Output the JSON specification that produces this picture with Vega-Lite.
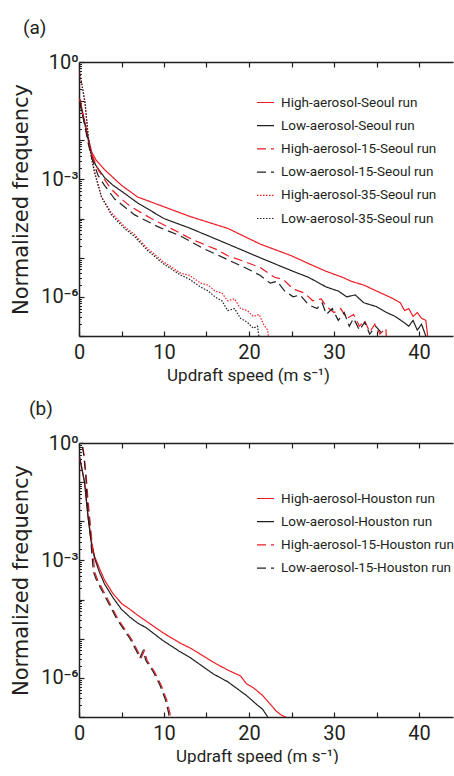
{
  "$schema": "https://vega.github.io/schema/vega-lite/v6.json",
  "padding": {"left": 10, "top": 19, "right": 0, "bottom": 0},
  "spacing": 17,
  "config": {
    "view": {"stroke": null},
    "font": "Roboto",
    "axis": {"domainColor": "#231f20", "domainWidth": 1.5, "tickColor": "#231f20", "tickWidth": 1.2, "grid": false, "labelColor": "#231f20", "titleColor": "#231f20", "labelFont": "Roboto", "titleFont": "Roboto", "labelFontSize": 20, "titleFontWeight": "normal", "labelFlush": false, "labelOverlap": false},
    "legend": {"labelFont": "Roboto", "labelFontSize": 13.5, "labelColor": "#231f20", "symbolType": "stroke", "symbolSize": 289, "symbolStrokeWidth": 1.2, "labelOffset": 6, "rowPadding": 7.2, "padding": 0, "labelLimit": 300},
    "title": {"font": "Roboto", "fontSize": 19, "fontWeight": "normal", "color": "#231f20", "anchor": "start", "frame": "group"}
  },
  "resolve": {"scale": {"color": "independent", "strokeDash": "independent", "strokeWidth": "independent"}, "legend": {"color": "independent", "strokeDash": "independent"}},
  "datasets": {
    "seoul": [
      {"run": "High-aerosol-Seoul run", "v": 0.1, "f": 0.112},
      {"run": "High-aerosol-Seoul run", "v": 0.3, "f": 0.0708},
      {"run": "High-aerosol-Seoul run", "v": 0.7, "f": 0.0282},
      {"run": "High-aerosol-Seoul run", "v": 1.1, "f": 0.0112},
      {"run": "High-aerosol-Seoul run", "v": 1.5, "f": 0.00501},
      {"run": "High-aerosol-Seoul run", "v": 2.0, "f": 0.00316},
      {"run": "High-aerosol-Seoul run", "v": 3.0, "f": 0.00178},
      {"run": "High-aerosol-Seoul run", "v": 4.0, "f": 0.00112},
      {"run": "High-aerosol-Seoul run", "v": 5.0, "f": 7.08e-4},
      {"run": "High-aerosol-Seoul run", "v": 6.9, "f": 3.55e-4},
      {"run": "High-aerosol-Seoul run", "v": 10, "f": 2.0e-4},
      {"run": "High-aerosol-Seoul run", "v": 13.1, "f": 1.12e-4},
      {"run": "High-aerosol-Seoul run", "v": 17.5, "f": 5.62e-5},
      {"run": "High-aerosol-Seoul run", "v": 21.3, "f": 2.24e-5},
      {"run": "High-aerosol-Seoul run", "v": 25, "f": 1.12e-5},
      {"run": "High-aerosol-Seoul run", "v": 27, "f": 7.08e-6},
      {"run": "High-aerosol-Seoul run", "v": 29.1, "f": 4.47e-6},
      {"run": "High-aerosol-Seoul run", "v": 31, "f": 3.16e-6},
      {"run": "High-aerosol-Seoul run", "v": 32, "f": 2.51e-6},
      {"run": "High-aerosol-Seoul run", "v": 33.5, "f": 2.0e-6},
      {"run": "High-aerosol-Seoul run", "v": 35, "f": 1.41e-6},
      {"run": "High-aerosol-Seoul run", "v": 36, "f": 1.12e-6},
      {"run": "High-aerosol-Seoul run", "v": 37, "f": 8.91e-7},
      {"run": "High-aerosol-Seoul run", "v": 37.8, "f": 7.08e-7},
      {"run": "High-aerosol-Seoul run", "v": 38.3, "f": 4.47e-7},
      {"run": "High-aerosol-Seoul run", "v": 38.8, "f": 5.01e-7},
      {"run": "High-aerosol-Seoul run", "v": 39.3, "f": 3.16e-7},
      {"run": "High-aerosol-Seoul run", "v": 39.8, "f": 3.98e-7},
      {"run": "High-aerosol-Seoul run", "v": 40.3, "f": 2.82e-7},
      {"run": "High-aerosol-Seoul run", "v": 40.8, "f": 2.51e-7},
      {"run": "High-aerosol-Seoul run", "v": 41.3, "f": 3.16e-8},
      {"run": "Low-aerosol-Seoul run", "v": 0.1, "f": 0.112},
      {"run": "Low-aerosol-Seoul run", "v": 0.3, "f": 0.0631},
      {"run": "Low-aerosol-Seoul run", "v": 0.7, "f": 0.0251},
      {"run": "Low-aerosol-Seoul run", "v": 1.1, "f": 0.01},
      {"run": "Low-aerosol-Seoul run", "v": 1.5, "f": 0.00398},
      {"run": "Low-aerosol-Seoul run", "v": 2.0, "f": 0.00224},
      {"run": "Low-aerosol-Seoul run", "v": 3.0, "f": 0.00112},
      {"run": "Low-aerosol-Seoul run", "v": 4.0, "f": 7.08e-4},
      {"run": "Low-aerosol-Seoul run", "v": 5.0, "f": 5.01e-4},
      {"run": "Low-aerosol-Seoul run", "v": 6.9, "f": 2.51e-4},
      {"run": "Low-aerosol-Seoul run", "v": 10, "f": 1.0e-4},
      {"run": "Low-aerosol-Seoul run", "v": 13.1, "f": 5.62e-5},
      {"run": "Low-aerosol-Seoul run", "v": 17.5, "f": 2.24e-5},
      {"run": "Low-aerosol-Seoul run", "v": 21.3, "f": 1.0e-5},
      {"run": "Low-aerosol-Seoul run", "v": 25.2, "f": 4.47e-6},
      {"run": "Low-aerosol-Seoul run", "v": 27, "f": 3.16e-6},
      {"run": "Low-aerosol-Seoul run", "v": 29.1, "f": 1.78e-6},
      {"run": "Low-aerosol-Seoul run", "v": 30.5, "f": 1.41e-6},
      {"run": "Low-aerosol-Seoul run", "v": 31.5, "f": 1.0e-6},
      {"run": "Low-aerosol-Seoul run", "v": 32.5, "f": 1.12e-6},
      {"run": "Low-aerosol-Seoul run", "v": 33.5, "f": 7.08e-7},
      {"run": "Low-aerosol-Seoul run", "v": 35, "f": 5.62e-7},
      {"run": "Low-aerosol-Seoul run", "v": 36.2, "f": 3.98e-7},
      {"run": "Low-aerosol-Seoul run", "v": 37.2, "f": 3.16e-7},
      {"run": "Low-aerosol-Seoul run", "v": 38.2, "f": 2.24e-7},
      {"run": "Low-aerosol-Seoul run", "v": 38.8, "f": 1.78e-7},
      {"run": "Low-aerosol-Seoul run", "v": 39.3, "f": 2.51e-7},
      {"run": "Low-aerosol-Seoul run", "v": 39.8, "f": 1.41e-7},
      {"run": "Low-aerosol-Seoul run", "v": 40.3, "f": 2.0e-7},
      {"run": "Low-aerosol-Seoul run", "v": 40.8, "f": 1.0e-7},
      {"run": "Low-aerosol-Seoul run", "v": 41.1, "f": 3.16e-8},
      {"run": "High-aerosol-15-Seoul run", "v": 0.1, "f": 0.112},
      {"run": "High-aerosol-15-Seoul run", "v": 0.3, "f": 0.0631},
      {"run": "High-aerosol-15-Seoul run", "v": 0.7, "f": 0.0251},
      {"run": "High-aerosol-15-Seoul run", "v": 1.1, "f": 0.01},
      {"run": "High-aerosol-15-Seoul run", "v": 1.5, "f": 0.00447},
      {"run": "High-aerosol-15-Seoul run", "v": 2.25, "f": 0.00178},
      {"run": "High-aerosol-15-Seoul run", "v": 3.0, "f": 0.001},
      {"run": "High-aerosol-15-Seoul run", "v": 3.8, "f": 5.62e-4},
      {"run": "High-aerosol-15-Seoul run", "v": 5.0, "f": 3.16e-4},
      {"run": "High-aerosol-15-Seoul run", "v": 6.1, "f": 2.0e-4},
      {"run": "High-aerosol-15-Seoul run", "v": 8.5, "f": 1.0e-4},
      {"run": "High-aerosol-15-Seoul run", "v": 10.8, "f": 5.62e-5},
      {"run": "High-aerosol-15-Seoul run", "v": 13.5, "f": 2.82e-5},
      {"run": "High-aerosol-15-Seoul run", "v": 16.3, "f": 1.58e-5},
      {"run": "High-aerosol-15-Seoul run", "v": 17.5, "f": 1.12e-5},
      {"run": "High-aerosol-15-Seoul run", "v": 19.5, "f": 7.94e-6},
      {"run": "High-aerosol-15-Seoul run", "v": 21.3, "f": 5.62e-6},
      {"run": "High-aerosol-15-Seoul run", "v": 23, "f": 3.16e-6},
      {"run": "High-aerosol-15-Seoul run", "v": 24, "f": 2.82e-6},
      {"run": "High-aerosol-15-Seoul run", "v": 25.2, "f": 1.58e-6},
      {"run": "High-aerosol-15-Seoul run", "v": 26.5, "f": 1.26e-6},
      {"run": "High-aerosol-15-Seoul run", "v": 27.5, "f": 7.94e-7},
      {"run": "High-aerosol-15-Seoul run", "v": 28.5, "f": 8.91e-7},
      {"run": "High-aerosol-15-Seoul run", "v": 29.1, "f": 5.62e-7},
      {"run": "High-aerosol-15-Seoul run", "v": 30, "f": 3.98e-7},
      {"run": "High-aerosol-15-Seoul run", "v": 30.8, "f": 5.01e-7},
      {"run": "High-aerosol-15-Seoul run", "v": 31.5, "f": 2.82e-7},
      {"run": "High-aerosol-15-Seoul run", "v": 32.3, "f": 3.55e-7},
      {"run": "High-aerosol-15-Seoul run", "v": 33, "f": 1.78e-7},
      {"run": "High-aerosol-15-Seoul run", "v": 33.6, "f": 2.51e-7},
      {"run": "High-aerosol-15-Seoul run", "v": 34.2, "f": 1.26e-7},
      {"run": "High-aerosol-15-Seoul run", "v": 34.8, "f": 2.0e-7},
      {"run": "High-aerosol-15-Seoul run", "v": 35.4, "f": 1.12e-7},
      {"run": "High-aerosol-15-Seoul run", "v": 36.1, "f": 1.58e-7},
      {"run": "High-aerosol-15-Seoul run", "v": 36.3, "f": 3.16e-8},
      {"run": "Low-aerosol-15-Seoul run", "v": 0.1, "f": 0.1},
      {"run": "Low-aerosol-15-Seoul run", "v": 0.3, "f": 0.0562},
      {"run": "Low-aerosol-15-Seoul run", "v": 0.7, "f": 0.0224},
      {"run": "Low-aerosol-15-Seoul run", "v": 1.1, "f": 0.00794},
      {"run": "Low-aerosol-15-Seoul run", "v": 1.5, "f": 0.00355},
      {"run": "Low-aerosol-15-Seoul run", "v": 2.25, "f": 0.00126},
      {"run": "Low-aerosol-15-Seoul run", "v": 3.0, "f": 7.08e-4},
      {"run": "Low-aerosol-15-Seoul run", "v": 4.2, "f": 3.16e-4},
      {"run": "Low-aerosol-15-Seoul run", "v": 6.5, "f": 1.26e-4},
      {"run": "Low-aerosol-15-Seoul run", "v": 9.2, "f": 6.31e-5},
      {"run": "Low-aerosol-15-Seoul run", "v": 12, "f": 3.55e-5},
      {"run": "Low-aerosol-15-Seoul run", "v": 14.5, "f": 1.78e-5},
      {"run": "Low-aerosol-15-Seoul run", "v": 17.5, "f": 8.91e-6},
      {"run": "Low-aerosol-15-Seoul run", "v": 19.5, "f": 5.62e-6},
      {"run": "Low-aerosol-15-Seoul run", "v": 21.3, "f": 3.55e-6},
      {"run": "Low-aerosol-15-Seoul run", "v": 22.5, "f": 2.24e-6},
      {"run": "Low-aerosol-15-Seoul run", "v": 23.3, "f": 2.51e-6},
      {"run": "Low-aerosol-15-Seoul run", "v": 24.2, "f": 1.41e-6},
      {"run": "Low-aerosol-15-Seoul run", "v": 25.2, "f": 1.0e-6},
      {"run": "Low-aerosol-15-Seoul run", "v": 26, "f": 1.12e-6},
      {"run": "Low-aerosol-15-Seoul run", "v": 27, "f": 6.31e-7},
      {"run": "Low-aerosol-15-Seoul run", "v": 28, "f": 5.01e-7},
      {"run": "Low-aerosol-15-Seoul run", "v": 28.6, "f": 7.08e-7},
      {"run": "Low-aerosol-15-Seoul run", "v": 29.1, "f": 3.55e-7},
      {"run": "Low-aerosol-15-Seoul run", "v": 29.8, "f": 5.01e-7},
      {"run": "Low-aerosol-15-Seoul run", "v": 30.5, "f": 2.51e-7},
      {"run": "Low-aerosol-15-Seoul run", "v": 31.2, "f": 3.98e-7},
      {"run": "Low-aerosol-15-Seoul run", "v": 31.8, "f": 1.78e-7},
      {"run": "Low-aerosol-15-Seoul run", "v": 32.3, "f": 2.82e-7},
      {"run": "Low-aerosol-15-Seoul run", "v": 33, "f": 1.41e-7},
      {"run": "Low-aerosol-15-Seoul run", "v": 33.6, "f": 2.24e-7},
      {"run": "Low-aerosol-15-Seoul run", "v": 34.2, "f": 1.12e-7},
      {"run": "Low-aerosol-15-Seoul run", "v": 34.9, "f": 1.78e-7},
      {"run": "Low-aerosol-15-Seoul run", "v": 35.5, "f": 1.26e-7},
      {"run": "Low-aerosol-15-Seoul run", "v": 35.8, "f": 3.16e-8},
      {"run": "High-aerosol-35-Seoul run", "v": 0.05, "f": 0.562},
      {"run": "High-aerosol-35-Seoul run", "v": 0.4, "f": 0.224},
      {"run": "High-aerosol-35-Seoul run", "v": 0.7, "f": 0.1},
      {"run": "High-aerosol-35-Seoul run", "v": 1.1, "f": 0.0126},
      {"run": "High-aerosol-35-Seoul run", "v": 1.5, "f": 0.00355},
      {"run": "High-aerosol-35-Seoul run", "v": 1.85, "f": 0.00158},
      {"run": "High-aerosol-35-Seoul run", "v": 2.65, "f": 3.55e-4},
      {"run": "High-aerosol-35-Seoul run", "v": 3.8, "f": 1.41e-4},
      {"run": "High-aerosol-35-Seoul run", "v": 5.35, "f": 6.31e-5},
      {"run": "High-aerosol-35-Seoul run", "v": 6.5, "f": 3.98e-5},
      {"run": "High-aerosol-35-Seoul run", "v": 8, "f": 1.78e-5},
      {"run": "High-aerosol-35-Seoul run", "v": 9.9, "f": 7.94e-6},
      {"run": "High-aerosol-35-Seoul run", "v": 12, "f": 3.98e-6},
      {"run": "High-aerosol-35-Seoul run", "v": 13, "f": 3.55e-6},
      {"run": "High-aerosol-35-Seoul run", "v": 14.3, "f": 2.24e-6},
      {"run": "High-aerosol-35-Seoul run", "v": 15.2, "f": 2.0e-6},
      {"run": "High-aerosol-35-Seoul run", "v": 16, "f": 1.41e-6},
      {"run": "High-aerosol-35-Seoul run", "v": 16.8, "f": 1.26e-6},
      {"run": "High-aerosol-35-Seoul run", "v": 17.5, "f": 7.94e-7},
      {"run": "High-aerosol-35-Seoul run", "v": 18.3, "f": 8.91e-7},
      {"run": "High-aerosol-35-Seoul run", "v": 19, "f": 5.01e-7},
      {"run": "High-aerosol-35-Seoul run", "v": 19.8, "f": 4.47e-7},
      {"run": "High-aerosol-35-Seoul run", "v": 20.5, "f": 3.16e-7},
      {"run": "High-aerosol-35-Seoul run", "v": 21.2, "f": 3.55e-7},
      {"run": "High-aerosol-35-Seoul run", "v": 21.7, "f": 2.0e-7},
      {"run": "High-aerosol-35-Seoul run", "v": 22.2, "f": 1.41e-7},
      {"run": "High-aerosol-35-Seoul run", "v": 22.5, "f": 3.16e-8},
      {"run": "Low-aerosol-35-Seoul run", "v": 0.05, "f": 0.562},
      {"run": "Low-aerosol-35-Seoul run", "v": 0.4, "f": 0.224},
      {"run": "Low-aerosol-35-Seoul run", "v": 0.7, "f": 0.0891},
      {"run": "Low-aerosol-35-Seoul run", "v": 1.1, "f": 0.0112},
      {"run": "Low-aerosol-35-Seoul run", "v": 1.5, "f": 0.00316},
      {"run": "Low-aerosol-35-Seoul run", "v": 1.85, "f": 0.00141},
      {"run": "Low-aerosol-35-Seoul run", "v": 2.65, "f": 3.55e-4},
      {"run": "Low-aerosol-35-Seoul run", "v": 3.8, "f": 1.26e-4},
      {"run": "Low-aerosol-35-Seoul run", "v": 5.35, "f": 5.62e-5},
      {"run": "Low-aerosol-35-Seoul run", "v": 6.5, "f": 3.55e-5},
      {"run": "Low-aerosol-35-Seoul run", "v": 8, "f": 1.58e-5},
      {"run": "Low-aerosol-35-Seoul run", "v": 9.9, "f": 7.08e-6},
      {"run": "Low-aerosol-35-Seoul run", "v": 12, "f": 3.55e-6},
      {"run": "Low-aerosol-35-Seoul run", "v": 13, "f": 2.82e-6},
      {"run": "Low-aerosol-35-Seoul run", "v": 14.3, "f": 1.78e-6},
      {"run": "Low-aerosol-35-Seoul run", "v": 15.2, "f": 1.41e-6},
      {"run": "Low-aerosol-35-Seoul run", "v": 16, "f": 1.0e-6},
      {"run": "Low-aerosol-35-Seoul run", "v": 16.8, "f": 7.94e-7},
      {"run": "Low-aerosol-35-Seoul run", "v": 17.5, "f": 4.47e-7},
      {"run": "Low-aerosol-35-Seoul run", "v": 18.3, "f": 5.01e-7},
      {"run": "Low-aerosol-35-Seoul run", "v": 19, "f": 2.82e-7},
      {"run": "Low-aerosol-35-Seoul run", "v": 19.8, "f": 2.24e-7},
      {"run": "Low-aerosol-35-Seoul run", "v": 20.5, "f": 1.58e-7},
      {"run": "Low-aerosol-35-Seoul run", "v": 21, "f": 1.78e-7},
      {"run": "Low-aerosol-35-Seoul run", "v": 21.5, "f": 3.16e-8}
    ],
    "houston": [
      {"run": "High-aerosol-Houston run", "v": 0.05, "f": 0.447},
      {"run": "High-aerosol-Houston run", "v": 0.2, "f": 0.316},
      {"run": "High-aerosol-Houston run", "v": 0.66, "f": 0.1},
      {"run": "High-aerosol-Houston run", "v": 1.06, "f": 0.0141},
      {"run": "High-aerosol-Houston run", "v": 1.45, "f": 0.00316},
      {"run": "High-aerosol-Houston run", "v": 1.84, "f": 0.00126},
      {"run": "High-aerosol-Houston run", "v": 2.4, "f": 6.31e-4},
      {"run": "High-aerosol-Houston run", "v": 3.0, "f": 3.16e-4},
      {"run": "High-aerosol-Houston run", "v": 4.0, "f": 1.41e-4},
      {"run": "High-aerosol-Houston run", "v": 5.0, "f": 7.94e-5},
      {"run": "High-aerosol-Houston run", "v": 6.0, "f": 5.62e-5},
      {"run": "High-aerosol-Houston run", "v": 6.9, "f": 3.98e-5},
      {"run": "High-aerosol-Houston run", "v": 7.9, "f": 2.82e-5},
      {"run": "High-aerosol-Houston run", "v": 9.9, "f": 1.41e-5},
      {"run": "High-aerosol-Houston run", "v": 11.8, "f": 7.94e-6},
      {"run": "High-aerosol-Houston run", "v": 13.2, "f": 5.62e-6},
      {"run": "High-aerosol-Houston run", "v": 15.8, "f": 2.51e-6},
      {"run": "High-aerosol-Houston run", "v": 17.5, "f": 1.58e-6},
      {"run": "High-aerosol-Houston run", "v": 19.0, "f": 1.12e-6},
      {"run": "High-aerosol-Houston run", "v": 19.7, "f": 7.08e-7},
      {"run": "High-aerosol-Houston run", "v": 20.5, "f": 5.62e-7},
      {"run": "High-aerosol-Houston run", "v": 21.6, "f": 3.55e-7},
      {"run": "High-aerosol-Houston run", "v": 22.4, "f": 2.24e-7},
      {"run": "High-aerosol-Houston run", "v": 23.2, "f": 1.41e-7},
      {"run": "High-aerosol-Houston run", "v": 23.8, "f": 1.12e-7},
      {"run": "High-aerosol-Houston run", "v": 24.8, "f": 8.9e-8},
      {"run": "Low-aerosol-Houston run", "v": 0.05, "f": 0.447},
      {"run": "Low-aerosol-Houston run", "v": 0.2, "f": 0.316},
      {"run": "Low-aerosol-Houston run", "v": 0.66, "f": 0.0955},
      {"run": "Low-aerosol-Houston run", "v": 1.06, "f": 0.0126},
      {"run": "Low-aerosol-Houston run", "v": 1.45, "f": 0.00282},
      {"run": "Low-aerosol-Houston run", "v": 1.84, "f": 0.00112},
      {"run": "Low-aerosol-Houston run", "v": 2.4, "f": 5.01e-4},
      {"run": "Low-aerosol-Houston run", "v": 3.0, "f": 2.51e-4},
      {"run": "Low-aerosol-Houston run", "v": 4.0, "f": 1.12e-4},
      {"run": "Low-aerosol-Houston run", "v": 5.0, "f": 5.62e-5},
      {"run": "Low-aerosol-Houston run", "v": 6.0, "f": 3.55e-5},
      {"run": "Low-aerosol-Houston run", "v": 6.9, "f": 2.51e-5},
      {"run": "Low-aerosol-Houston run", "v": 7.9, "f": 1.91e-5},
      {"run": "Low-aerosol-Houston run", "v": 9.9, "f": 8.91e-6},
      {"run": "Low-aerosol-Houston run", "v": 11.8, "f": 4.79e-6},
      {"run": "Low-aerosol-Houston run", "v": 13.2, "f": 3.16e-6},
      {"run": "Low-aerosol-Houston run", "v": 15.8, "f": 1.26e-6},
      {"run": "Low-aerosol-Houston run", "v": 17.5, "f": 7.94e-7},
      {"run": "Low-aerosol-Houston run", "v": 19.7, "f": 3.55e-7},
      {"run": "Low-aerosol-Houston run", "v": 21.0, "f": 2.0e-7},
      {"run": "Low-aerosol-Houston run", "v": 21.6, "f": 1.58e-7},
      {"run": "Low-aerosol-Houston run", "v": 22.2, "f": 1.0e-7},
      {"run": "Low-aerosol-Houston run", "v": 22.5, "f": 3.16e-8},
      {"run": "High-aerosol-15-Houston run", "v": 0.45, "f": 0.794},
      {"run": "High-aerosol-15-Houston run", "v": 0.6, "f": 0.501},
      {"run": "High-aerosol-15-Houston run", "v": 0.85, "f": 0.141},
      {"run": "High-aerosol-15-Houston run", "v": 1.06, "f": 0.0355},
      {"run": "High-aerosol-15-Houston run", "v": 1.3, "f": 0.01},
      {"run": "High-aerosol-15-Houston run", "v": 1.65, "f": 0.00158},
      {"run": "High-aerosol-15-Houston run", "v": 1.84, "f": 5.01e-4},
      {"run": "High-aerosol-15-Houston run", "v": 2.2, "f": 3.16e-4},
      {"run": "High-aerosol-15-Houston run", "v": 2.8, "f": 1.78e-4},
      {"run": "High-aerosol-15-Houston run", "v": 3.4, "f": 1.0e-4},
      {"run": "High-aerosol-15-Houston run", "v": 4.6, "f": 3.16e-5},
      {"run": "High-aerosol-15-Houston run", "v": 6.15, "f": 1.0e-5},
      {"run": "High-aerosol-15-Houston run", "v": 7.0, "f": 4.47e-6},
      {"run": "High-aerosol-15-Houston run", "v": 7.3, "f": 3.16e-6},
      {"run": "High-aerosol-15-Houston run", "v": 7.7, "f": 5.01e-6},
      {"run": "High-aerosol-15-Houston run", "v": 8.0, "f": 2.82e-6},
      {"run": "High-aerosol-15-Houston run", "v": 8.9, "f": 1.41e-6},
      {"run": "High-aerosol-15-Houston run", "v": 9.7, "f": 6.31e-7},
      {"run": "High-aerosol-15-Houston run", "v": 10.3, "f": 2.82e-7},
      {"run": "High-aerosol-15-Houston run", "v": 10.7, "f": 1.26e-7},
      {"run": "High-aerosol-15-Houston run", "v": 11.0, "f": 3.16e-8},
      {"run": "Low-aerosol-15-Houston run", "v": 0.4, "f": 0.794},
      {"run": "Low-aerosol-15-Houston run", "v": 0.55, "f": 0.501},
      {"run": "Low-aerosol-15-Houston run", "v": 0.8, "f": 0.141},
      {"run": "Low-aerosol-15-Houston run", "v": 0.95, "f": 0.0355},
      {"run": "Low-aerosol-15-Houston run", "v": 1.2, "f": 0.01},
      {"run": "Low-aerosol-15-Houston run", "v": 1.5, "f": 0.00158},
      {"run": "Low-aerosol-15-Houston run", "v": 1.7, "f": 5.01e-4},
      {"run": "Low-aerosol-15-Houston run", "v": 2.05, "f": 3.16e-4},
      {"run": "Low-aerosol-15-Houston run", "v": 2.65, "f": 1.78e-4},
      {"run": "Low-aerosol-15-Houston run", "v": 3.25, "f": 1.0e-4},
      {"run": "Low-aerosol-15-Houston run", "v": 4.45, "f": 3.16e-5},
      {"run": "Low-aerosol-15-Houston run", "v": 6.0, "f": 1.0e-5},
      {"run": "Low-aerosol-15-Houston run", "v": 6.85, "f": 4.47e-6},
      {"run": "Low-aerosol-15-Houston run", "v": 7.15, "f": 3.16e-6},
      {"run": "Low-aerosol-15-Houston run", "v": 7.55, "f": 5.01e-6},
      {"run": "Low-aerosol-15-Houston run", "v": 7.85, "f": 2.82e-6},
      {"run": "Low-aerosol-15-Houston run", "v": 8.75, "f": 1.41e-6},
      {"run": "Low-aerosol-15-Houston run", "v": 9.55, "f": 6.31e-7},
      {"run": "Low-aerosol-15-Houston run", "v": 10.15, "f": 2.82e-7},
      {"run": "Low-aerosol-15-Houston run", "v": 10.55, "f": 1.26e-7},
      {"run": "Low-aerosol-15-Houston run", "v": 10.8, "f": 3.16e-8}
    ]
  },
  "vconcat": [
    {
      "title": {"text": "(a)", "dx": -56, "offset": 14},
      "width": 374,
      "height": 274,
      "data": {"name": "seoul"},
      "resolve": {"axis": {"x": "independent", "y": "independent"}},
      "layer": [
        {
          "mark": {"type": "line", "clip": true},
          "encoding": {
            "x": {"field": "v", "type": "quantitative", "scale": {"domain": [0, 44], "nice": false, "zero": false},
              "axis": {"orient": "bottom", "values": [0, 5, 10, 15, 20, 25, 30, 35, 40], "labelExpr": "datum.value % 10 == 0 ? datum.label : ''", "tickSize": -5, "labelPadding": 11, "title": "Updraft speed (m s⁻¹)", "titleFontSize": 17, "titleX": 169, "titlePadding": 5}},
            "y": {"field": "f", "type": "quantitative", "scale": {"type": "log", "domain": [1e-7, 1], "nice": false},
              "axis": {"orient": "left", "values": [1, 0.1, 0.01, 0.001, 1e-4, 1e-5, 1e-6, 1e-7], "labelExpr": "datum.value > 0.5 ? '10⁰' : (abs(log(datum.value)/LN10 + 3) < 0.01 ? '10⁻³' : (abs(log(datum.value)/LN10 + 6) < 0.01 ? '10⁻⁶' : ''))", "tickSize": -5, "labelPadding": 6, "title": "Normalized frequency", "titleFont": "DejaVu Sans", "titleFontSize": 21, "titlePadding": 9}},
            "color": {"field": "run", "type": "nominal",
              "scale": {"domain": ["High-aerosol-Seoul run", "Low-aerosol-Seoul run", "High-aerosol-15-Seoul run", "Low-aerosol-15-Seoul run", "High-aerosol-35-Seoul run", "Low-aerosol-35-Seoul run"], "range": ["#ed1c24", "#231f20", "#ed1c24", "#231f20", "#ed1c24", "#231f20"]},
              "legend": {"title": null, "orient": "none", "legendX": 177, "legendY": 31, "encode": {"symbols": {"update": {"strokeDash": {"signal": "indexof(datum.value, '-15-') >= 0 ? [5.5, 5] : (indexof(datum.value, '-35-') >= 0 ? [1.5, 1.5] : [1, 0])"}}}}}},
            "strokeDash": {"field": "run", "type": "nominal",
              "scale": {"domain": ["High-aerosol-Seoul run", "Low-aerosol-Seoul run", "High-aerosol-15-Seoul run", "Low-aerosol-15-Seoul run", "High-aerosol-35-Seoul run", "Low-aerosol-35-Seoul run"], "range": [[1, 0], [1, 0], [9, 5], [9, 5], [1.5, 1.5], [1.5, 1.5]]},
              "legend": {"title": null, "orient": "none", "legendX": 177, "legendY": 31}},
            "strokeWidth": {"field": "run", "type": "nominal",
              "scale": {"domain": ["High-aerosol-Seoul run", "Low-aerosol-Seoul run", "High-aerosol-15-Seoul run", "Low-aerosol-15-Seoul run", "High-aerosol-35-Seoul run", "Low-aerosol-35-Seoul run"], "range": [1.2, 1.2, 1.2, 1.2, 1.6, 1.6]},
              "legend": null}
          }
        },
        {
          "mark": {"type": "line", "clip": true, "strokeOpacity": 0},
          "encoding": {
            "x": {"field": "v", "type": "quantitative", "scale": {"domain": [0, 44], "nice": false, "zero": false},
              "axis": {"orient": "top", "values": [0, 5, 10, 15, 20, 25, 30, 35, 40], "labels": false, "tickSize": -5, "title": null}},
            "y": {"field": "f", "type": "quantitative", "scale": {"type": "log", "domain": [1e-7, 1], "nice": false},
              "axis": {"orient": "left", "values": [0.2, 0.3, 0.4, 0.5, 0.6, 0.7, 0.8, 0.9, 0.02, 0.03, 0.04, 0.05, 0.06, 0.07, 0.08, 0.09, 0.002, 0.003, 0.004, 0.005, 0.006, 0.007, 0.008, 0.009, 2e-4, 3e-4, 4e-4, 5e-4, 6e-4, 7e-4, 8e-4, 9e-4, 2e-5, 3e-5, 4e-5, 5e-5, 6e-5, 7e-5, 8e-5, 9e-5, 2e-6, 3e-6, 4e-6, 5e-6, 6e-6, 7e-6, 8e-6, 9e-6, 2e-7, 3e-7, 4e-7, 5e-7, 6e-7, 7e-7, 8e-7, 9e-7], "labels": false, "domain": false, "tickSize": -2.5, "tickWidth": 1, "title": null}},
            "detail": {"field": "run"}
          }
        }
      ]
    },
    {
      "title": {"text": "(b)", "dx": -50, "offset": 14},
      "width": 374,
      "height": 274,
      "data": {"name": "houston"},
      "resolve": {"axis": {"x": "independent", "y": "independent"}},
      "layer": [
        {
          "mark": {"type": "line", "clip": true, "strokeWidth": 1.2},
          "encoding": {
            "x": {"field": "v", "type": "quantitative", "scale": {"domain": [0, 44], "nice": false, "zero": false},
              "axis": {"orient": "bottom", "values": [0, 5, 10, 15, 20, 25, 30, 35, 40], "labelExpr": "datum.value % 10 == 0 ? datum.label : ''", "tickSize": -5, "labelPadding": 11, "title": "Updraft speed (m s⁻¹)", "titleFontSize": 17, "titleX": 178, "titlePadding": 5}},
            "y": {"field": "f", "type": "quantitative", "scale": {"type": "log", "domain": [1e-7, 1], "nice": false},
              "axis": {"orient": "left", "values": [1, 0.1, 0.01, 0.001, 1e-4, 1e-5, 1e-6, 1e-7], "labelExpr": "datum.value > 0.5 ? '10⁰' : (abs(log(datum.value)/LN10 + 3) < 0.01 ? '10⁻³' : (abs(log(datum.value)/LN10 + 6) < 0.01 ? '10⁻⁶' : ''))", "tickSize": -5, "labelPadding": 6, "title": "Normalized frequency", "titleFont": "DejaVu Sans", "titleFontSize": 21, "titlePadding": 9}},
            "color": {"field": "run", "type": "nominal",
              "scale": {"domain": ["High-aerosol-Houston run", "Low-aerosol-Houston run", "High-aerosol-15-Houston run", "Low-aerosol-15-Houston run"], "range": ["#ed1c24", "#231f20", "#ed1c24", "#231f20"]},
              "legend": {"title": null, "orient": "none", "legendX": 177, "legendY": 46, "encode": {"symbols": {"update": {"strokeDash": {"signal": "indexof(datum.value, '-15-') >= 0 ? [5.5, 5] : [1, 0]"}}}}}},
            "strokeDash": {"field": "run", "type": "nominal",
              "scale": {"domain": ["High-aerosol-Houston run", "Low-aerosol-Houston run", "High-aerosol-15-Houston run", "Low-aerosol-15-Houston run"], "range": [[1, 0], [1, 0], [9, 5], [9, 5]]},
              "legend": {"title": null, "orient": "none", "legendX": 177, "legendY": 46}}
          }
        },
        {
          "mark": {"type": "line", "clip": true, "strokeOpacity": 0},
          "encoding": {
            "x": {"field": "v", "type": "quantitative", "scale": {"domain": [0, 44], "nice": false, "zero": false},
              "axis": {"orient": "top", "values": [0, 5, 10, 15, 20, 25, 30, 35, 40], "labels": false, "tickSize": -5, "title": null}},
            "y": {"field": "f", "type": "quantitative", "scale": {"type": "log", "domain": [1e-7, 1], "nice": false},
              "axis": {"orient": "left", "values": [0.2, 0.3, 0.4, 0.5, 0.6, 0.7, 0.8, 0.9, 0.02, 0.03, 0.04, 0.05, 0.06, 0.07, 0.08, 0.09, 0.002, 0.003, 0.004, 0.005, 0.006, 0.007, 0.008, 0.009, 2e-4, 3e-4, 4e-4, 5e-4, 6e-4, 7e-4, 8e-4, 9e-4, 2e-5, 3e-5, 4e-5, 5e-5, 6e-5, 7e-5, 8e-5, 9e-5, 2e-6, 3e-6, 4e-6, 5e-6, 6e-6, 7e-6, 8e-6, 9e-6, 2e-7, 3e-7, 4e-7, 5e-7, 6e-7, 7e-7, 8e-7, 9e-7], "labels": false, "domain": false, "tickSize": -2.5, "tickWidth": 1, "title": null}},
            "detail": {"field": "run"}
          }
        }
      ]
    }
  ]
}
